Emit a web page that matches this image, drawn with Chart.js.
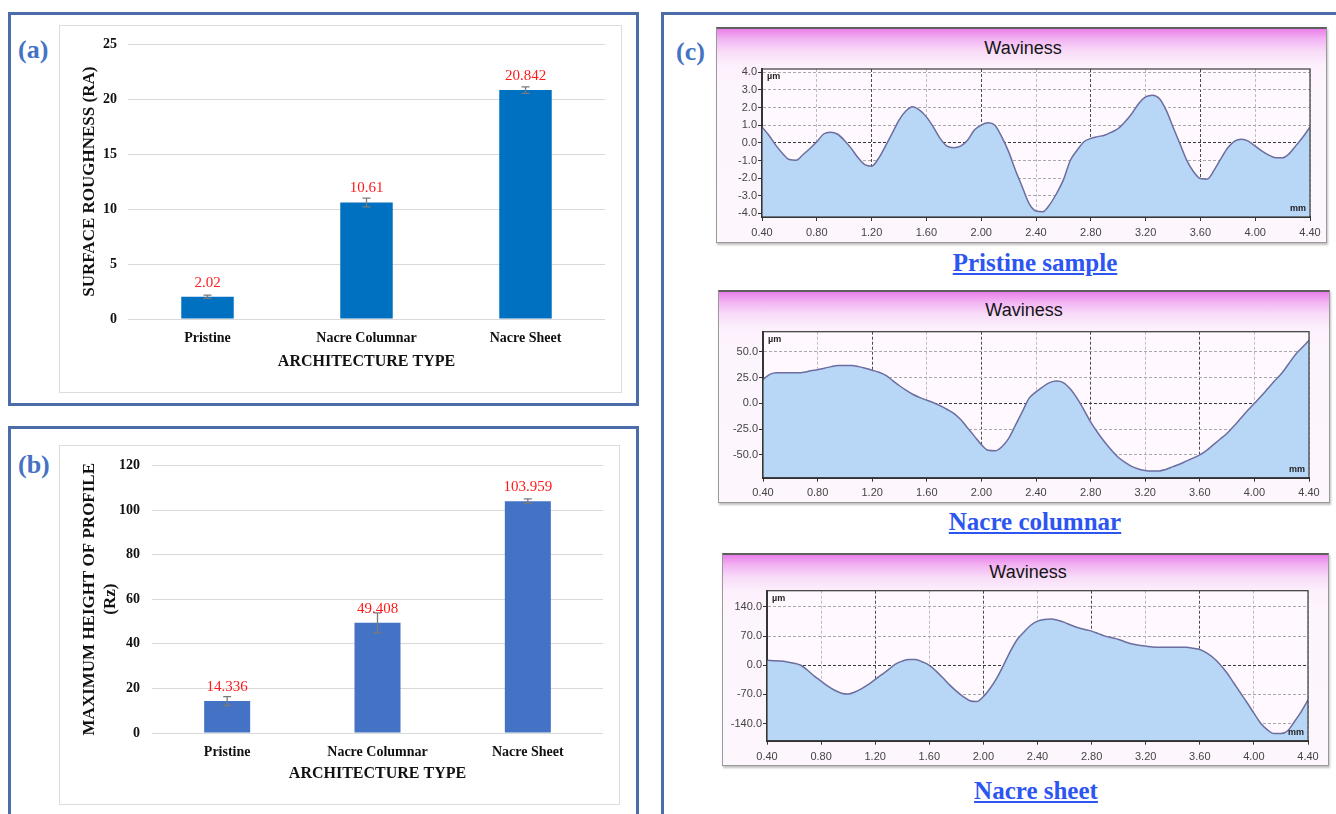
<!DOCTYPE html>
<html>
<head>
<meta charset="utf-8">
<script src="https://cdn.jsdelivr.net/npm/chart.js@4.4.1/dist/chart.umd.min.js"></script>
<style>
  html, body { margin: 0; padding: 0; background: #fff; }
  body { width: 1336px; height: 814px; overflow: hidden; position: relative; font-family: 'Liberation Serif', 'Times New Roman', serif; }
  .panel { position: absolute; box-sizing: border-box; border: 3px solid #4b6eab; }
  .plotbox { position: absolute; box-sizing: border-box; border: 1px solid #dcdcdc; }
  .tag { position: absolute; font: bold 26px/30px 'Liberation Serif', serif; color: #4472c4; }
  .frame { position: absolute; box-sizing: border-box; border: 1px solid #9a9a9a; border-top: 2px solid #5f5f5f;
           background: linear-gradient(#ea7fea 0px, #f2b3f2 10px, #f8dbf8 22px, #fcf0fc 36px, #fdf5fd 60px, #fdf6fd 100%);
           box-shadow: 1px 2px 2px rgba(0,0,0,0.25); }
  .wtitle { position: absolute; width: 200px; text-align: center; font: 18px/22px 'Liberation Sans', Arial, sans-serif; color: #151515; }
  .caption { position: absolute; width: 300px; text-align: center; font: bold 25px/30px 'Liberation Serif', serif;
             color: #2c55f2; text-decoration: underline; }
  canvas { position: absolute; }
</style>
</head>
<body>

<div class="panel" style="left:8px; top:12px; width:631px; height:394px;"></div>
<div class="panel" style="left:8px; top:426px; width:631px; height:420px;"></div>
<div class="panel" style="left:661px; top:12px; width:720px; height:840px;"></div>

<div class="plotbox" style="left:59px; top:25px; width:563px; height:368px;"></div>
<div class="plotbox" style="left:59px; top:445px; width:561px; height:360px;"></div>

<div class="tag" style="left:18px; top:35px;">(a)</div>
<div class="tag" style="left:18px; top:450px;">(b)</div>
<div class="tag" style="left:676px; top:37px;">(c)</div>

<canvas id="raChart" width="563" height="368" style="left:59px; top:25px;"></canvas>
<canvas id="rzChart" width="561" height="360" style="left:59px; top:445px;"></canvas>

<div class="frame" style="left:716px; top:27px; width:611px; height:216px;"></div>
<div class="wtitle" style="left:923px; top:37px;">Waviness</div>
<canvas id="pristineWave" width="611" height="216" style="left:716px; top:27px;"></canvas>
<div class="caption" style="left:885px; top:248px;">Pristine sample</div>

<div class="frame" style="left:718px; top:290px; width:612px; height:213px;"></div>
<div class="wtitle" style="left:924px; top:299px;">Waviness</div>
<canvas id="columnarWave" width="612" height="213" style="left:718px; top:290px;"></canvas>
<div class="caption" style="left:885px; top:507px;">Nacre columnar</div>

<div class="frame" style="left:722px; top:553px; width:607px; height:213px;"></div>
<div class="wtitle" style="left:928px; top:561px;">Waviness</div>
<canvas id="sheetWave" width="607" height="213" style="left:722px; top:553px;"></canvas>
<div class="caption" style="left:886px; top:776px;">Nacre sheet</div>

<script>
// ---- Surface roughness (Ra) and maximum profile height (Rz) ----
const categories = ['Pristine', 'Nacre Columnar', 'Nacre Sheet'];
const raValues = [2.02, 10.61, 20.842];
const raErrors = [0.15, 0.4, 0.3];
const raTicks = [0, 5, 10, 15, 20, 25];
const rzValues = [14.336, 49.408, 103.959];
const rzErrors = [2.0, 4.5, 1.0];
const rzTicks = [0, 20, 40, 60, 80, 100, 120];

// ---- Waviness profiles: position (mm) vs height (µm) ----
const positionTicks = [0.40, 0.80, 1.20, 1.60, 2.00, 2.40, 2.80, 3.20, 3.60, 4.00, 4.40];
const majorPositions = [1.20, 2.00, 2.80, 3.60];
const profilePositions = [
  0.40, 0.45, 0.50, 0.55, 0.60, 0.65, 0.70, 0.75, 0.80, 0.85, 0.90, 0.95, 1.00, 1.05, 1.10, 1.15,
  1.20, 1.25, 1.30, 1.35, 1.40, 1.45, 1.50, 1.55, 1.60, 1.65, 1.70, 1.75, 1.80, 1.85, 1.90, 1.95,
  2.00, 2.05, 2.10, 2.15, 2.20, 2.25, 2.30, 2.35, 2.40, 2.45, 2.50, 2.55, 2.60, 2.65, 2.70, 2.75,
  2.80, 2.85, 2.90, 2.95, 3.00, 3.05, 3.10, 3.15, 3.20, 3.25, 3.30, 3.35, 3.40, 3.45, 3.50, 3.55,
  3.60, 3.65, 3.70, 3.75, 3.80, 3.85, 3.90, 3.95, 4.00, 4.05, 4.10, 4.15, 4.20, 4.25, 4.30, 4.35, 4.40
];
const pristineHeights = [
  0.90, 0.43, -0.13, -0.60, -0.95, -0.98, -0.66, -0.32, 0.06, 0.50, 0.60, 0.50, 0.15, -0.30, -0.83, -1.23,
  -1.32, -0.89, -0.20, 0.53, 1.29, 1.80, 2.04, 1.85, 1.47, 0.90, 0.25, -0.19, -0.28, -0.19, 0.15, 0.72,
  1.00, 1.13, 1.00, 0.34, -0.50, -1.55, -2.50, -3.44, -3.86, -3.90, -3.50, -2.87, -2.10, -1.00, -0.42, 0.06,
  0.25, 0.35, 0.43, 0.60, 0.81, 1.19, 1.66, 2.23, 2.60, 2.70, 2.51, 1.85, 0.90, -0.04, -0.98, -1.64,
  -2.02, -2.05, -1.55, -0.89, -0.28, 0.10, 0.20, 0.10, -0.19, -0.47, -0.70, -0.85, -0.85, -0.60, -0.13, 0.34, 0.90
];
const columnarHeights = [
  23, 28, 29.5, 29.5, 29.5, 29.5, 30, 31.5, 32.5, 34, 35.5, 36.5, 36.5, 36.5, 35.5, 34,
  32, 30, 27, 22, 17, 12.5, 8.5, 5.5, 3, 0.5, -2.5, -6, -10, -16, -24, -32,
  -40, -45.5, -46, -42, -34, -21, -8, 5, 11, 16, 20, 21.5, 20, 14, 5, -6,
  -18, -28, -37, -45, -52, -57, -61, -63.5, -65, -65.5, -65.5, -64, -61.5, -59, -56, -53,
  -50, -45.5, -40, -34.5, -29, -22, -14.5, -7, 0, 7, 14.5, 22, 29, 38, 47, 54, 61
];
const sheetHeights = [
  12, 11, 10, 8, 5, 0, -12, -26, -38, -50, -60, -67, -69, -64, -56, -46,
  -34, -22, -10, 3, 10, 14, 14, 8, 0, -14, -30, -47, -62, -75, -85, -87,
  -75, -55, -30, 1, 34, 62, 80, 96, 106, 110, 111, 108, 103, 96, 90, 86,
  82, 76, 70, 66, 62, 56, 51, 48, 46, 44, 43, 43, 43, 43, 43, 41,
  38, 30, 18, 2, -18, -42, -66, -90, -115, -139, -155, -164, -164, -157, -135, -111, -83
];
const pristineTicks = [-4, -3, -2, -1, 0, 1, 2, 3, 4];
const columnarTicks = [-50, -25, 0, 25, 50];
const sheetTicks = [-140, -70, 0, 70, 140];

const serif = "'Liberation Serif', 'Times New Roman', serif";
const sans = "'Liberation Sans', Arial, sans-serif";

// Vertical error bars drawn from the value and its deviation through the y scale
const errorBars = {
  id: 'errorBars',
  afterDatasetsDraw(chart, args, opts) {
    const { ctx } = chart;
    const yScale = chart.scales.y;
    const values = chart.data.datasets[0].data;
    ctx.save();
    ctx.strokeStyle = opts.color;
    ctx.lineWidth = opts.width;
    chart.getDatasetMeta(0).data.forEach((bar, i) => {
      const hi = yScale.getPixelForValue(values[i] + opts.errors[i]);
      const lo = yScale.getPixelForValue(values[i] - opts.errors[i]);
      ctx.beginPath();
      ctx.moveTo(bar.x, hi); ctx.lineTo(bar.x, lo);
      ctx.moveTo(bar.x - opts.cap, hi); ctx.lineTo(bar.x + opts.cap, hi);
      ctx.moveTo(bar.x - opts.cap, lo); ctx.lineTo(bar.x + opts.cap, lo);
      ctx.stroke();
    });
    ctx.restore();
  }
};

// Value printed above each bar
const valueLabels = {
  id: 'valueLabels',
  afterDatasetsDraw(chart, args, opts) {
    const { ctx } = chart;
    const values = chart.data.datasets[0].data;
    ctx.save();
    ctx.fillStyle = opts.color;
    ctx.font = opts.font;
    ctx.textAlign = 'center';
    ctx.textBaseline = 'middle';
    chart.getDatasetMeta(0).data.forEach((bar, i) => {
      ctx.fillText(String(values[i]), bar.x, bar.y - opts.offset);
    });
    ctx.restore();
  }
};

function barChart(id, values, errors, ticks, cfg) {
  return new Chart(document.getElementById(id), {
    type: 'bar',
    data: {
      labels: categories,
      datasets: [{ data: values, backgroundColor: cfg.color, borderWidth: 0,
                   categoryPercentage: 1, barPercentage: cfg.barPct }]
    },
    plugins: [errorBars, valueLabels],
    options: {
      responsive: false, animation: false, events: [],
      layout: { padding: cfg.padding },
      plugins: {
        legend: { display: false }, tooltip: { enabled: false },
        errorBars: { errors, color: '#7a7a7a', width: 1.3, cap: 4 },
        valueLabels: { color: '#ff1a1a', font: '15px ' + serif, offset: 14 }
      },
      scales: {
        x: {
          afterFit: s => { s.height = cfg.xHeight; },
          grid: { display: false }, border: { display: false },
          ticks: { color: '#111', font: { family: serif, size: 14, weight: 'bold' }, padding: 2.6 },
          title: { display: true, text: 'ARCHITECTURE TYPE', color: '#111',
                   font: { family: serif, size: 16, weight: 'bold' }, padding: { top: 0, bottom: cfg.xTitlePad } }
        },
        y: {
          min: ticks[0], max: ticks[ticks.length - 1],
          afterBuildTicks: s => { s.ticks = ticks.map(v => ({ value: v })); },
          afterFit: s => { s.width = cfg.yWidth; },
          grid: { color: '#d9d9d9', lineWidth: 1, drawTicks: false },
          border: { display: false },
          ticks: { color: '#111', font: { family: serif, size: 14, weight: 'bold' }, padding: cfg.yTickPad },
          title: { display: true, text: cfg.yTitle, color: '#111',
                   font: { family: serif, size: 17, weight: 'bold' }, padding: { top: 20.8, bottom: 0 } }
        }
      }
    }
  });
}

barChart('raChart', raValues, raErrors, raTicks, {
  color: '#0070c0', barPct: 0.33, yWidth: 69, xHeight: 55, xTitlePad: 2.5, yTickPad: 11,
  padding: { left: 0, right: 17, top: 19, bottom: 19 },
  yTitle: 'SURFACE ROUGHNESS (RA)'
});

barChart('rzChart', rzValues, rzErrors, rzTicks, {
  color: '#4472c4', barPct: 0.306, yWidth: 93, xHeight: 60, xTitlePad: 9.5, yTickPad: 12,
  padding: { left: 0, right: 17, top: 12, bottom: 12 },
  yTitle: ['MAXIMUM HEIGHT OF PROFILE', '(Rz)']
});

// Plot background, frame and unit labels for the waviness plots
const plotFrame = {
  id: 'plotFrame',
  beforeDraw(chart, args, opts) {
    const { ctx, chartArea: a } = chart;
    ctx.save();
    ctx.fillStyle = opts.background;
    ctx.fillRect(a.left, a.top, a.width, a.height);
    ctx.restore();
  },
  afterDraw(chart, args, opts) {
    const { ctx, chartArea: a } = chart;
    ctx.save();
    ctx.strokeStyle = '#3a3a3a';
    ctx.lineWidth = 1.2;
    ctx.strokeRect(a.left, a.top, a.width, a.height);
    ctx.fillStyle = '#222';
    ctx.font = 'bold 9px ' + sans;
    ctx.textBaseline = 'middle';
    ctx.textAlign = 'left';
    ctx.fillText(opts.yUnit, a.left + 5, a.top + 8);
    ctx.textAlign = 'right';
    ctx.fillText(opts.xUnit, a.right - 4, a.bottom - 8);
    ctx.restore();
  }
};

function wavinessChart(id, heights, yTicks, cfg) {
  const isMajor = v => majorPositions.some(m => Math.abs(m - v) < 1e-6);
  return new Chart(document.getElementById(id), {
    type: 'line',
    data: {
      datasets: [{
        data: profilePositions.map((x, i) => ({ x, y: heights[i] })),
        fill: 'start', backgroundColor: '#b8d6f6', borderColor: '#6b6e9e', borderWidth: 1.5,
        pointRadius: 0, cubicInterpolationMode: 'monotone'
      }]
    },
    plugins: [plotFrame],
    options: {
      responsive: false, animation: false, events: [],
      layout: { padding: { left: 0, right: cfg.padRight, top: cfg.padTop, bottom: 0 } },
      plugins: {
        legend: { display: false }, tooltip: { enabled: false },
        plotFrame: { background: '#fff8fe', yUnit: 'µm', xUnit: 'mm' }
      },
      scales: {
        x: {
          type: 'linear', min: 0.4, max: 4.4,
          afterBuildTicks: s => { s.ticks = positionTicks.map(v => ({ value: v })); },
          afterFit: s => { s.height = cfg.xHeight; },
          ticks: { callback: v => v.toFixed(2), color: '#444', font: { family: sans, size: 11 },
                   padding: cfg.xTickPad, maxRotation: 0, autoSkip: false },
          grid: { color: c => isMajor(c.tick.value) ? '#4a4a4a' : '#bdbdbd', lineWidth: 1,
                  tickLength: 4, tickColor: '#333' },
          border: { color: '#2e2e2e', width: 2, dash: [3, 2] }
        },
        y: {
          min: cfg.yMin, max: cfg.yMax,
          afterBuildTicks: s => { s.ticks = yTicks.map(v => ({ value: v })); },
          afterFit: s => { s.width = cfg.yWidth; },
          ticks: { callback: v => v.toFixed(1), color: '#444', font: { family: sans, size: 11 }, padding: 1 },
          grid: { color: c => c.tick.value === 0 ? '#3a3a3a' : '#a9a9a9', lineWidth: 1,
                  tickLength: 4, tickColor: '#333' },
          border: { color: '#2e2e2e', width: 2, dash: [3, 2] }
        }
      }
    }
  });
}

wavinessChart('pristineWave', pristineHeights, pristineTicks, {
  yMin: -4.2, yMax: 4.18, padRight: 17, padTop: 42, yWidth: 46, xHeight: 26, xTickPad: 5
});

wavinessChart('columnarWave', columnarHeights, columnarTicks, {
  yMin: -72, yMax: 69.3, padRight: 21, padTop: 41.7, yWidth: 45, xHeight: 25.3, xTickPad: 4.5
});

wavinessChart('sheetWave', sheetHeights, sheetTicks, {
  yMin: -181, yMax: 179, padRight: 21, padTop: 37.7, yWidth: 45, xHeight: 25.3, xTickPad: 5.5
});
</script>
</body>
</html>
